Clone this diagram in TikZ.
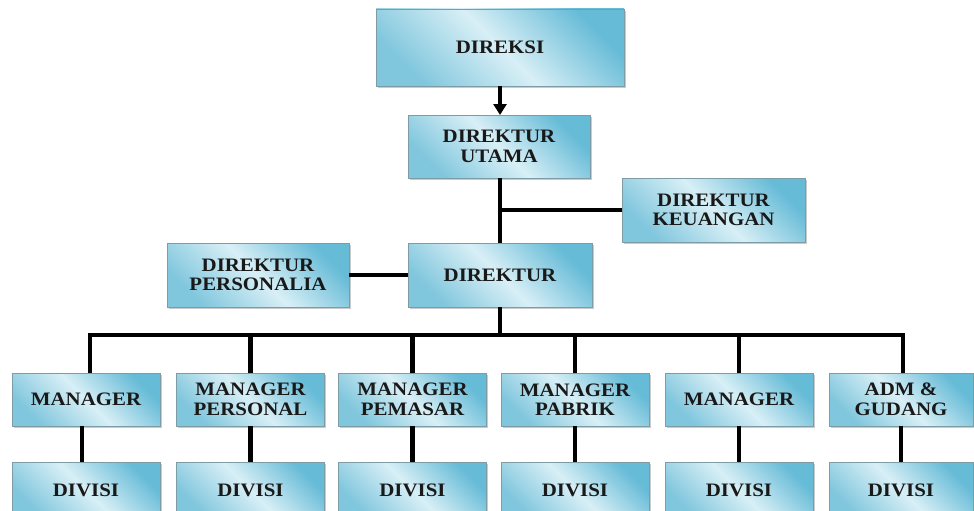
\documentclass[tikz,border=0pt]{standalone}
\usepackage{fontspec}
\newfontfamily\boxfont[FakeStretch=1.1]{Liberation Serif}
\usetikzlibrary{arrows.meta,shadows}
\definecolor{boxdark}{HTML}{66BBD7}
\definecolor{boxmid}{HTML}{D8EFF6}
\definecolor{boxbot}{HTML}{80C6DD}
\definecolor{boxline}{HTML}{7E9CA6}
\tikzset{
  orgbox/.style={draw=boxline, line width=0.6pt, inner sep=0pt, outer sep=0pt,
    top color=boxdark, bottom color=boxbot, middle color=boxmid, shading angle=-45,
    drop shadow={shadow xshift=1.6pt, shadow yshift=-1.6pt, opacity=0.35, fill=black!60},
    align=center, text=black!90,
    font=\boxfont\bfseries\fontsize{19}{19.5}\selectfont},
  mgrbox/.style={orgbox, minimum width=148pt, minimum height=53pt},
  divbox/.style={orgbox, minimum width=148pt, minimum height=56pt},
  conn/.style={line width=4.5pt, draw=black, line join=miter},
}
\begin{document}
\begin{tikzpicture}[x=1pt, y=-1pt]
\useasboundingbox (0,0) rectangle (974,511);
\clip (0,0) rectangle (974,511);
\node[orgbox, minimum width=248pt, minimum height=77pt] (direksi) at (500,47.5) {DIREKSI};
\node[orgbox, minimum width=182pt, minimum height=63pt] (utama) at (499,146.5) {DIREKTUR\\UTAMA};
\node[orgbox, minimum width=183pt, minimum height=64pt] (keu) at (713.5,210) {DIREKTUR\\KEUANGAN};
\node[orgbox, minimum width=182pt, minimum height=64pt] (pers) at (258,275) {DIREKTUR\\PERSONALIA};
\node[orgbox, minimum width=184pt, minimum height=64pt] (dir) at (500,275) {DIREKTUR};

\node[mgrbox] (m1) at (86,399.5) {MANAGER};
\node[mgrbox] (m2) at (250.5,399.5) {MANAGER\\PERSONAL};
\node[mgrbox] (m3) at (412.5,399.5) {MANAGER\\PEMASAR};
\node[mgrbox] (m4) at (575,399.5) {MANAGER\\PABRIK};
\node[mgrbox] (m5) at (739,399.5) {MANAGER};
\node[mgrbox, minimum width=144pt] (m6) at (901,399.5) {ADM \&\\GUDANG};

\node[divbox] (d1) at (86,490) {DIVISI};
\node[divbox] (d2) at (250.5,490) {DIVISI};
\node[divbox] (d3) at (412.5,490) {DIVISI};
\node[divbox] (d4) at (575,490) {DIVISI};
\node[divbox] (d5) at (739,490) {DIVISI};
\node[divbox, minimum width=144pt] (d6) at (901,490) {DIVISI};

\coordinate (bus) at (500,335);

\draw[conn, -{Triangle[width=13pt,length=11pt]}] (direksi.south) -- (direksi.south |- utama.north);
\draw[conn] (utama.south -| dir.north) -- (dir.north);
\draw[conn] (dir.north |- keu.west) -- (keu.west);
\draw[conn] (pers.east) -- (dir.west);
\draw[conn] (dir.south) -- (bus);
\draw[conn] ([xshift=4pt]m1.north) |- (bus) -| ([xshift=2pt]m6.north);
\foreach \i in {2,3,4,5} {
  \draw[conn] (m\i.north) -- (m\i.north |- bus);
}
\draw[conn] ([xshift=-4pt]m1.south) -- ([xshift=-4pt]d1.north);
\foreach \i in {2,3,4,5,6} {
  \draw[conn] (m\i.south) -- (d\i.north);
}
\end{tikzpicture}
\end{document}
